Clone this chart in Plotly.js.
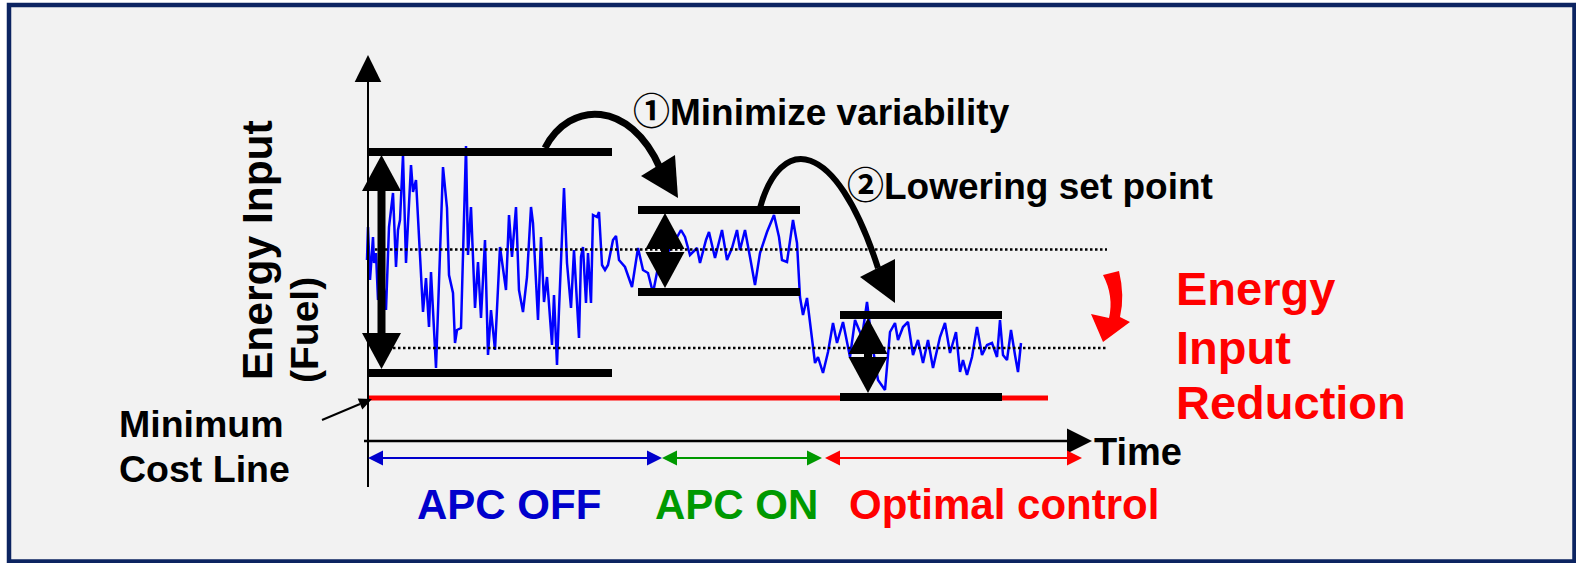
<!DOCTYPE html>
<html>
<head>
<meta charset="utf-8">
<script src="https://cdn.plot.ly/plotly-3.0.1.min.js"></script>
<style>html,body{margin:0;padding:0;background:#fff;}#chart{width:1576px;height:563px;}</style>
</head>
<body>
<div id="chart"></div>
<script>
// ---- Signal (energy input vs time) ----
const time = [-1,0,2,5,6,8,10,14,18,21,25,28,30,32,35,38,43,45,48,55,58,61,63,68,75,79,81,85,87,89,93,98,100,103,107,110,113,117,120,123,127,132,138,141,144,148,151,155,159,163,165,170,173,176,179,184,186,189,191,196,199,203,206,211,213,215,218,220,223,225,229,231,234,237,240,245,248,251,257,264,270,275,280,285,292,302,313,317,322,329,332,338,341,347,354,359,364,369,372,377,382,387,392,399,406,411,414,419,425,429,432,435,439,444,447,450,455,460,465,469,475,482,487,494,499,504,510,517,522,527,530,535,540,545,550,555,560,565,572,577,582,588,592,595,599,604,609,614,619,624,629,632,635,639,643,647,650,653];
const energy = [181,214,161,204,178,188,141,171,131,214,248,174,211,221,286,178,276,249,261,129,163,114,169,73,274,233,166,148,98,111,113,295,186,234,133,179,123,201,86,131,91,194,151,226,184,234,151,129,164,234,218,121,204,139,164,96,146,76,131,253,178,133,191,103,184,194,138,188,138,226,224,229,176,171,176,201,205,181,174,154,193,171,168,148,184,191,211,204,186,193,178,201,209,183,211,181,193,211,191,211,184,156,188,209,226,204,181,179,221,198,144,126,143,101,78,84,68,89,118,98,119,84,121,104,139,98,61,51,109,118,101,114,119,86,101,78,101,73,104,118,88,109,69,81,66,84,114,86,96,98,84,121,86,81,111,86,69,98];

// ---- Phases ----
const phaseNames = ['APC OFF', 'APC ON', 'Optimal control'];
const phaseColors = ['#0000cc', '#009900', '#ff0000'];
const phaseStart = [0, 294, 457];
const phaseEnd = [294, 454, 714];
const labelTime = [141, 368, 636];

// ---- Variability bands ----
const bandStart = [0, 270, 472];
const bandEnd = [244, 432, 634];
const bandHigh = [289, 231, 126];
const bandLow = [68, 149, 44];
const arrowTime = [13.5, 297, 500];
const arrowTop = [286, 228, 123];
const arrowBottom = [72, 153, 48];

// ---- Set points and minimum cost ----
const setPoints = [191.5, 93];
const setPointStart = [7, 25];
const setPointEnd = 739;
const minCost = 43;
const minCostEnd = 680;

const FONT = 'Liberation Sans, Arial, Noto Sans CJK JP, sans-serif';
const shapes = [];
const annotations = [];

function tri(p1, p2, p3, color) {
  shapes.push({type: 'path', xref: 'x', yref: 'y', layer: 'above',
    path: `M${p1[0]},${p1[1]} L${p2[0]},${p2[1]} L${p3[0]},${p3[1]} Z`,
    fillcolor: color, line: {width: 0}});
}
function seg(x0, y0, x1, y1, color, width, dash) {
  shapes.push({type: 'line', xref: 'x', yref: 'y', layer: 'above', x0, y0, x1, y1,
    line: {color, width, dash: dash || 'solid'}});
}

// Frame
shapes.push({type: 'rect', xref: 'x', yref: 'y', layer: 'below', x0: -359, x1: 1206.5, y0: -120.5, y1: 436,
  fillcolor: '#f2f2f2', line: {color: '#0c2461', width: 4.5}});

// Set-point dotted lines
setPoints.forEach((v, i) => seg(setPointStart[i], v, setPointEnd, v, '#000', 2.5, '2.5px,2.5px'));

// Minimum cost line
seg(0, minCost, minCostEnd, minCost, '#ff0000', 5);

// Axes
seg(0, -46, 0, 360, '#000', 2);
tri([0, 386], [-13.3, 359], [13.3, 359], '#000');
seg(-4, 0, 700, 0, '#000', 2.5);
tri([724, 0], [699, 12.5], [699, -12.5], '#000');

// Band bars
for (let i = 0; i < 3; i++) {
  seg(bandStart[i], bandHigh[i], bandEnd[i], bandHigh[i], '#000', 8);
  seg(bandStart[i], bandLow[i], bandEnd[i], bandLow[i], '#000', 8);
  const cx = arrowTime[i], t = arrowTop[i], b = arrowBottom[i];
  const h = Math.min(36, (t - b) / 2), w = 19.5;
  tri([cx, t], [cx - w, t - h], [cx + w, t - h], '#000');
  tri([cx, b], [cx - w, b + h], [cx + w, b + h], '#000');
  if (t - b > 2 * h + 1) seg(cx, t - h + 1, cx, b + h - 1, '#000', 8);
}

// Phase arrows
const py = -17;
for (let i = 0; i < 3; i++) {
  const a = phaseStart[i], b = phaseEnd[i], c = phaseColors[i];
  seg(a + 10, py, b - 10, py, c, 2);
  tri([a, py], [a + 15, py + 7.5], [a + 15, py - 7.5], c);
  tri([b, py], [b - 15, py + 7.5], [b - 15, py - 7.5], c);
  annotations.push({x: labelTime[i], y: -63, xref: 'x', yref: 'y', xanchor: 'center', yanchor: 'middle',
    showarrow: false, text: '<b>' + phaseNames[i] + '</b>', font: {family: FONT, size: 42, color: c}});
}

// Curved arrows
shapes.push({type: 'path', xref: 'x', yref: 'y', layer: 'above', path: 'M177,293 C202,341 262,341 292,273',
  line: {color: '#000', width: 7}});
tri([310, 243], [273, 265], [307, 286], '#000');
shapes.push({type: 'path', xref: 'x', yref: 'y', layer: 'above', path: 'M392,233 C412,306 467,306 510,173',
  line: {color: '#000', width: 6}});
tri([527, 138], [492, 164], [527, 182], '#000');

// Red reduction arrow
shapes.push({type: 'path', xref: 'x', yref: 'y', layer: 'above',
  path: 'M735,166 L751,170 Q757,145 752,124 L762,119 L735,99 L723,127 L741,123 Q746,145 735,166 Z',
  fillcolor: '#ff0000', line: {width: 0}});

// Pointer to minimum cost line
seg(-46, 21, -8, 37, '#000', 2);
tri([4, 42], [-5.7, 31.5], [-10.3, 42.5], '#000');

function txt(x, y, text, size, color, anchor, angle) {
  annotations.push({x, y, xref: 'x', yref: 'y', xanchor: anchor || 'left', yanchor: 'middle', showarrow: false,
    text: '<b>' + text + '</b>', textangle: angle || 0, font: {family: FONT, size, color: color || '#000'}});
}
txt(-111, 191, 'Energy Input', 42.5, '#000', 'center', -90);
txt(-64, 111, '(Fuel)', 39, '#000', 'center', -90);
txt(-251, 17, 'Minimum', 37.5);
txt(-251, -28, 'Cost Line', 37.5);
txt(724, -10.5, 'Time', 38);
txt(263, 329, '①Minimize variability', 37);
txt(477, 255, '②Lowering set point', 37);
txt(806, 153, 'Energy', 47, '#ff0000');
txt(806, 94, 'Input', 47, '#ff0000');
txt(806, 39, 'Reduction', 47, '#ff0000');

const traces = [{x: time, y: energy, type: 'scatter', mode: 'lines', line: {color: '#0000ff', width: 2.5}, hoverinfo: 'skip'}];

const layout = {
  width: 1576, height: 563, margin: {l: 0, r: 0, t: 0, b: 0, pad: 0},
  paper_bgcolor: '#ffffff', plot_bgcolor: 'rgba(0,0,0,0)', showlegend: false,
  xaxis: {range: [-368, 1208], visible: false, fixedrange: true},
  yaxis: {range: [-122, 441], visible: false, fixedrange: true},
  shapes, annotations
};
Plotly.newPlot('chart', traces, layout, {displayModeBar: false, staticPlot: true});
</script>
</body>
</html>
